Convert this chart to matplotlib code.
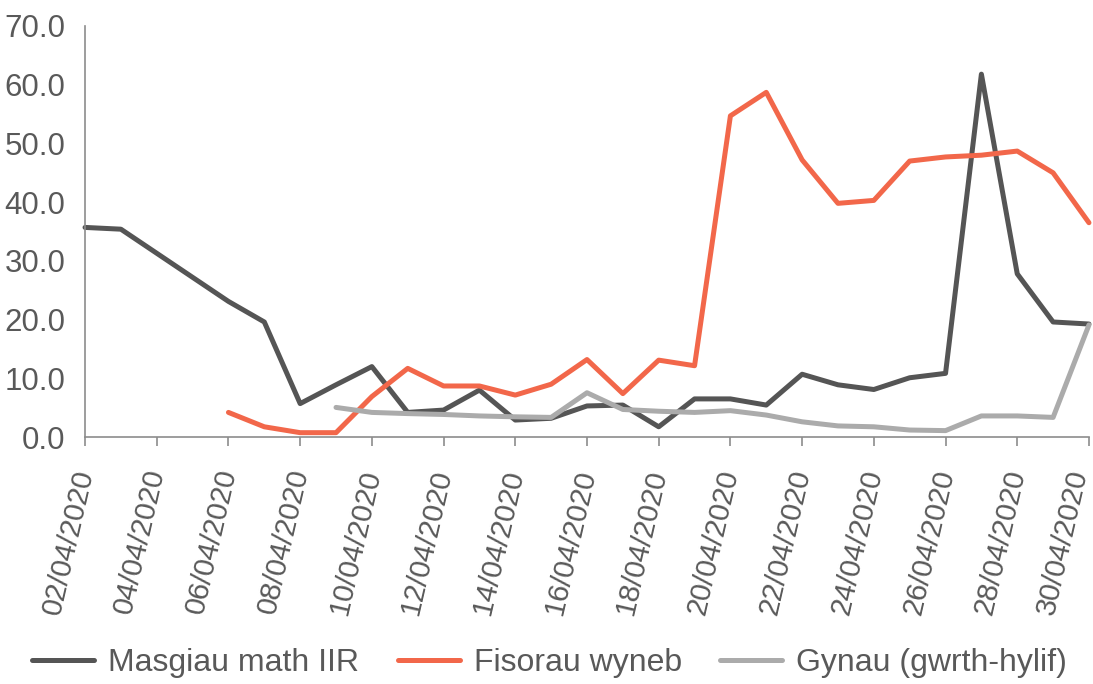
import matplotlib.pyplot as plt
import matplotlib.transforms as mtransforms
import numpy as np

plt.rcParams['font.family'] = ['Liberation Sans', 'DejaVu Sans']

# dyddiadau 02/04/2020 - 30/04/2020
dates = ["%02d/04/2020" % d for d in range(2, 31)]

nan = np.nan
masgiau = [35.7, 35.4, 31.3, 27.2, 23.1, 19.6, 5.7, 8.9, 12.0, 4.2,
           4.6, 8.0, 2.9, 3.2, 5.3, 5.45, 1.75, 6.5, 6.5, 5.45,
           10.7, 8.9, 8.1, 10.1, 10.85, 61.8, 27.8, 19.6, 19.25]
fisorau = [nan, nan, nan, nan, 4.2, 1.75, 0.75, 0.75, 6.9, 11.7,
           8.7, 8.7, 7.15, 9.0, 13.2, 7.4, 13.1, 12.15, 54.7, 58.7,
           47.2, 39.8, 40.3, 47.0, 47.7, 48.0, 48.7, 45.0, 36.5]
gynau = [nan, nan, nan, nan, nan, nan, nan, 5.05, 4.2, 4.0,
         3.85, 3.6, 3.45, 3.35, 7.55, 4.7, 4.4, 4.2, 4.5, 3.75,
         2.6, 1.9, 1.75, 1.2, 1.1, 3.6, 3.6, 3.35, 19.1]

series = [
    ("Masgiau math IIR", masgiau, "#555555"),
    ("Fisorau wyneb", fisorau, "#F2674A"),
    ("Gynau (gwrth-hylif)", gynau, "#ABABAB"),
]

txt = "#595959"

fig = plt.figure(figsize=(10.93, 6.84), dpi=100)
ax = fig.add_axes([0.0778, 0.361, 0.9185, 0.601])

x = np.arange(len(dates))
for name, vals, col in series:
    ax.plot(x, vals, color=col, lw=3.6, label=name,
            solid_joinstyle="round", solid_capstyle="round", clip_on=False)

ax.set_xlim(0, len(dates) - 1)
ax.set_ylim(0, 70)
ax.set_yticks(np.arange(0, 71, 10))
ax.set_yticklabels(["%.1f" % v for v in np.arange(0, 71, 10)])

ax.set_xticks(x[::2])
ax.set_xticklabels(dates[::2], rotation=77, ha="right", va="center",
                   rotation_mode="anchor")

for s in ["top", "right"]:
    ax.spines[s].set_visible(False)
for s in ["left", "bottom"]:
    ax.spines[s].set_color("#8C8C8C")
    ax.spines[s].set_linewidth(1.2)

ax.tick_params(axis="y", length=0, pad=14, labelsize=22.5, labelcolor=txt)
ax.tick_params(axis="x", length=6.5, width=1.2, color="#8C8C8C", pad=17,
               labelsize=21.3, labelcolor=txt)

# mae'r label olaf wedi ei wthio i mewn i'r siart
shift = mtransforms.ScaledTranslation(-10 / 100, 0, fig.dpi_scale_trans)
last = ax.get_xticklabels()[-1]
last.set_transform(last.get_transform() + shift)

fig.legend(loc="center left", bbox_to_anchor=(0.018, 0.03), ncol=3,
           frameon=False, fontsize=23, handlelength=1.94, handletextpad=0.44,
           columnspacing=1.2, labelcolor=txt, borderaxespad=0)

fig.savefig("out.png", dpi=100)
